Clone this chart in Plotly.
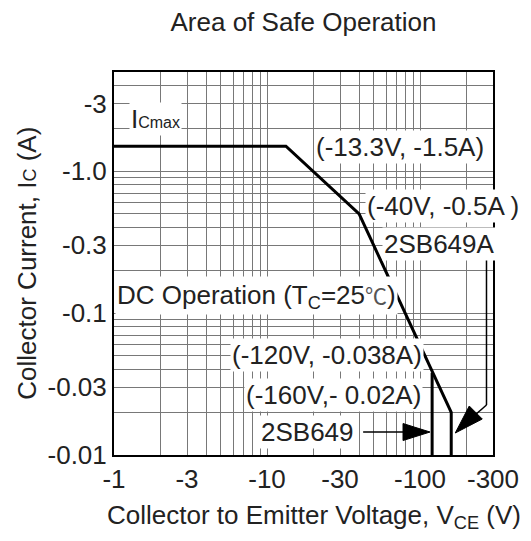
import math
import plotly.graph_objects as go

# ---- data ----
soa_v = [1, 13.3, 40, 160, 160]          # 2SB649A SOA boundary, |VCE| (V)
soa_i = [1.5, 1.5, 0.5, 0.02, 0.01]      # |IC| (A)
b649_v = [120, 120]                      # 2SB649 limit
b649_i = [0.038, 0.01]

x_tickvals = [1, 3, 10, 30, 100, 300]
x_ticktext = ["-1", "-3", "-10", "-30", "-100", "-300"]
y_tickvals = [0.01, 0.03, 0.1, 0.3, 1, 3]
y_ticktext = ["-0.01", "-0.03", "-0.1", "-0.3", "-1.0", "-3"]

x_minor = [2, 4, 5, 6, 7, 8, 9, 20, 40, 50, 60, 70, 80, 90, 200]
y_minor = [0.02, 0.04, 0.05, 0.06, 0.07, 0.08, 0.09,
           0.2, 0.4, 0.5, 0.6, 0.7, 0.8, 0.9, 2, 4]

FONT = "Liberation Sans, Arial, sans-serif"
TXT = "#222222"
FS = 26
GRID = "#787878"
GW = 1.4

fig = go.Figure()
fig.add_trace(go.Scatter(x=soa_v, y=soa_i, mode="lines",
                         line=dict(color="black", width=3), showlegend=False,
                         hoverinfo="skip"))
fig.add_trace(go.Scatter(x=b649_v, y=b649_i, mode="lines",
                         line=dict(color="black", width=3), showlegend=False,
                         hoverinfo="skip"))

L = math.log10
labels = [
    ("I<span style='font-size:16px'>Cmax</span>", 1.86, 2.33),
    ("(-13.3V, -1.5A)", 74.5, 1.48),
    ("(-40V, -0.5A )", 141, 0.569),
    ("2SB649A", 134, 0.307),
    ("DC Operation (T<sub>C</sub>=25<span style='font-family:Noto Sans CJK JP;font-size:22px;color:#555'>℃</span>)", 8.5, 0.134),
    ("(-120V, -0.038A)", 24.8, 0.0507),
    ("(-160V,- 0.02A)", 27.3, 0.0265),
    ("2SB649", 18.3, 0.0145),
]
anns = []
for t, xv, yv in labels:
    anns.append(dict(text=t, x=L(xv), y=L(yv), xref="x", yref="y",
                     showarrow=False, bgcolor="white", borderpad=1,
                     font=dict(family=FONT, size=FS, color=TXT)))

# axis titles
anns.append(dict(text="Collector Current, I<span style='font-size:18px'>C</span> (A)",
                 xref="paper", yref="paper", x=-0.228, y=0.501,
                 textangle=-90, showarrow=False, xanchor="center", yanchor="middle",
                 font=dict(family=FONT, size=FS, color=TXT)))
anns.append(dict(text="Collector to Emitter Voltage, V<sub>CE</sub> (V)",
                 xref="paper", yref="paper", x=0.528, y=-0.16,
                 showarrow=False, xanchor="center", yanchor="middle",
                 font=dict(family=FONT, size=FS, color=TXT)))

shapes = [
    # leader for 2SB649A
    dict(type="line", xref="x", yref="y", x0=272, x1=272, y0=0.265, y1=0.0225,
         line=dict(color="black", width=1.5)),
    dict(type="line", xref="x", yref="y", x0=272, x1=178, y0=0.0225, y1=0.0151,
         line=dict(color="black", width=1.5)),
    # head for 2SB649A arrow (pixel path relative to tip)
    dict(type="path", xref="x", yref="y", xsizemode="pixel", ysizemode="pixel",
         xanchor=170, yanchor=0.01429,
         path="M0,0 L27,14 L14,27 Z", fillcolor="black",
         line=dict(color="black", width=1)),
    # shaft for 2SB649 arrow
    dict(type="line", xref="x", yref="y", x0=42.5, x1=110, y0=0.01452, y1=0.01452,
         line=dict(color="black", width=1.5)),
    # head for 2SB649 arrow
    dict(type="path", xref="x", yref="y", xsizemode="pixel", ysizemode="pixel",
         xanchor=116.3, yanchor=0.01452,
         path="M0,0 L-27,8.5 L-27,-8.5 Z", fillcolor="black",
         line=dict(color="black", width=1)),
]

axis_common = dict(type="log", showline=True, linecolor="black", linewidth=2,
                   mirror=True, ticks="", showgrid=True, gridcolor=GRID,
                   gridwidth=GW, zeroline=False,
                   tickfont=dict(family=FONT, size=FS, color=TXT))

fig.update_layout(
    width=523, height=533,
    margin=dict(l=106, r=32, t=64, b=86),
    paper_bgcolor="white", plot_bgcolor="white",
    title=dict(text="Area of Safe Operation", x=0.5, xref="paper", xanchor="center",
               y=1 - 14 / 533, yref="container", yanchor="middle",
               font=dict(family=FONT, size=FS, color=TXT)),
    xaxis=dict(axis_common, range=[0, L(300)], tickvals=x_tickvals, ticktext=x_ticktext,
               minor=dict(tickvals=x_minor, showgrid=True, gridcolor=GRID, gridwidth=GW, ticks="")),
    yaxis=dict(axis_common, range=[L(0.01), L(5)], tickvals=y_tickvals, ticktext=y_ticktext,
               minor=dict(tickvals=y_minor, showgrid=True, gridcolor=GRID, gridwidth=GW, ticks="")),
    annotations=anns, shapes=shapes,
)

fig.write_html("out.html")
